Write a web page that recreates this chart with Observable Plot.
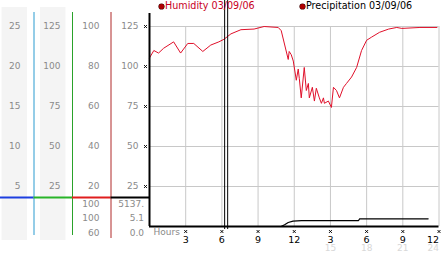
<!DOCTYPE html>
<html><head><meta charset="utf-8">
<script src="https://cdn.jsdelivr.net/npm/d3@7"></script>
<script src="https://cdn.jsdelivr.net/npm/@observablehq/plot@0.6"></script>
<style>
body{margin:0;background:#fff;}
#wrap{position:relative;width:442px;height:253px;overflow:hidden;font-family:"DejaVu Sans",sans-serif;background:#fff;}
#wrap svg{position:absolute;left:0;top:0;}
.legend{position:absolute;top:1px;font-size:9.6px;line-height:10px;white-space:nowrap;}
.dot{position:absolute;top:4px;width:5px;height:5px;border-radius:50%;background:#b00000;box-shadow:0 0 0 0.6px #400;}
</style></head><body>
<div id="wrap"></div>
<script>
// ---- data ----
const humidityHours = [0,0.36,0.75,1.17,2.0,2.58,3.17,3.67,4.42,5.08,5.75,6.17,6.75,7.58,8.67,9.5,10.67,10.92,11.5,11.58,11.75,11.92,12.17,12.33,12.42,12.58,12.83,13.0,13.17,13.25,13.5,13.67,13.83,14.08,14.25,14.42,14.5,14.83,15.08,15.25,15.5,15.75,16.08,16.33,16.75,17.17,17.58,18.0,18.42,19.08,19.83,20.5,20.92,22.42,23.83];
const humidityValues = [105.4,110,108.4,111.4,115.4,108.4,114.4,114.4,109.4,113.4,115.4,117,120.4,123,123.4,125,124.4,122.4,104.4,109.4,107.4,103.4,91.4,98.4,92.4,80.4,99.4,85,89.4,80.4,87,78.4,86.4,80.4,77,80.4,77,78.4,74.4,87,85,80.4,87,89.4,93.4,99.4,110,116.4,118.4,121.4,123.4,124.4,123.8,124.4,124.4];
const precipHours = [0,10.9,11.2,11.5,11.9,12.6,17.33,17.42,23.1];
const precipValues = [0,0,0.6,1.4,1.9,2.1,2.1,2.7,2.7];
const gridValues = [125,100,75,50,25];
const axisCol1 = ["25","20","15","10","5"];
const axisCol2 = ["125","100","75","50","25"];
const axisCol3 = ["100","80","60","40","20"];
const axisCol4 = ["125","100","75","50","25"];
const lowerCol3 = ["100","100","60"];
const lowerCol4 = ["5137.","5.1","0.0"];
const tickHours = [3,6,9,12,15,18,21,24];
const tickLabels = ["3","6","9","12","3","6","9","12"];
const pmHours = [15,18,21,24];
const pmLabels = ["15","18","21","24"];
const cursorHours = [6.23,6.48];
const legendLabels = ["Humidity 03/09/06","Precipitation 03/09/06"];

const W = 442, H = 253;
const wrap = document.getElementById("wrap");
const font = {fontFamily:"DejaVu Sans, sans-serif", fontSize:"9px", background:"transparent", overflow:"visible"};

// ---- left axis panel ----
const cols = [
  {labels:axisCol1, vline:"#2a9bd0", hline:"#1d3fe0", dx:-13.5, bg:true},
  {labels:axisCol2, vline:"#2aa22a", hline:"#28b428", dx:-12, bg:true},
  {labels:axisCol3, vline:"#b02828", hline:"#e01e1e", dx:-11.5, bg:false, lower:lowerCol3, ldx:-11.5},
  {labels:axisCol4, vline:null, hline:"#000", dx:-11, bg:false, lower:lowerCol4, ldx:-5.5}
];
const lowerDy = [-22.5,-8,6.5];
const leftMarks = [];
cols.forEach((c,i)=>{
  if (c.bg) leftMarks.push(Plot.rect([{a:i+0.17,b:i+0.83}],{x1:"a",x2:"b",fill:"#f4f4f4"}));
});
cols.forEach((c,i)=>{
  if (c.vline) leftMarks.push(Plot.ruleX([i+1],{stroke:c.vline,insetTop:5,insetBottom:i===2?2:5}));
  leftMarks.push(Plot.ruleY([{y:0,a:i,b:i+1}],{y:"y",x1:"a",x2:"b",dy:-29,stroke:c.hline,strokeWidth:2}));
  leftMarks.push(Plot.text(gridValues,{x:()=>i+1,y:d=>d,text:(d,j)=>c.labels[j],dx:c.dx,textAnchor:"end",fill:"#8a8a8a",fontSize:9}));
  if (c.lower) c.lower.forEach((t,j)=>{
    leftMarks.push(Plot.text([t],{x:()=>i+1,y:()=>0,text:d=>d,dx:c.ldx,dy:lowerDy[j],textAnchor:"end",fill:"#8a8a8a",fontSize:9}));
  });
});
const left = Plot.plot({
  width:149, height:H, marginTop:7, marginBottom:13, marginLeft:0, marginRight:0,
  x:{domain:[0,4], range:[-5,149], axis:null},
  y:{domain:[0,125], range:[226,26], axis:null},
  style:font,
  marks:leftMarks
});
wrap.appendChild(left);

// ---- main humidity chart ----
const lastTick = tickHours.length - 1;
const lastPm = pmHours.length - 1;
const main = Plot.plot({
  width:W, height:H, marginLeft:149, marginRight:3.5, marginTop:26, marginBottom:27,
  x:{domain:[0,24], axis:null},
  y:{domain:[0,125], axis:null},
  style:font,
  marks:[
    Plot.ruleY(gridValues,{stroke:"#c8c8c8"}),
    Plot.ruleX(tickHours,{stroke:"#c8c8c8"}),
    Plot.line(humidityHours.map((h,i)=>({h,v:humidityValues[i]})),{x:"h",y:"v",stroke:"#e0102a",strokeWidth:1}),
    Plot.ruleX(cursorHours,{stroke:"#000",insetTop:-26,insetBottom:-3}),
    Plot.ruleY([0],{stroke:"#000",strokeWidth:2}),
    Plot.ruleX([0],{stroke:"#000",strokeWidth:2,insetTop:-13}),
    Plot.dot(gridValues,{x:()=>0,y:d=>d,dx:-4,symbol:"times",r:1.4,stroke:"#000",strokeWidth:1}),
    Plot.dot(tickHours,{x:d=>d,y:()=>0,dy:5,dx:(0),symbol:"times",r:1.4,stroke:"#000",strokeWidth:1}),
    Plot.text(tickHours.slice(0,lastTick),{x:d=>d,y:()=>0,text:(d,i)=>tickLabels[i],dy:13,fill:"#000",fontSize:9.5}),
    Plot.text([tickHours[lastTick]],{x:d=>d,y:()=>0,text:()=>tickLabels[lastTick],dy:13,dx:0,textAnchor:"end",fill:"#000",fontSize:9.5}),
    Plot.text(pmHours.slice(0,lastPm),{x:d=>d,y:()=>0,text:(d,i)=>pmLabels[i],dy:22,fill:"#d8d8d8",fontSize:9}),
    Plot.text([pmHours[lastPm]],{x:d=>d,y:()=>0,text:()=>pmLabels[lastPm],dy:22,dx:0,textAnchor:"end",fill:"#d8d8d8",fontSize:9}),
    Plot.text(["Hours"],{x:()=>0,y:()=>0,text:d=>d,dx:4,dy:6,textAnchor:"start",fill:"#8a8a8a",fontSize:9})
  ]
});
wrap.appendChild(main);

// ---- precipitation band ----
const precip = Plot.plot({
  width:W, height:H, marginLeft:149, marginRight:3.5, marginTop:197, marginBottom:27,
  x:{domain:[0,24], axis:null},
  y:{domain:[0,10.2], axis:null},
  style:font,
  marks:[
    Plot.line(precipHours.map((h,i)=>({h,v:precipValues[i]})),{x:"h",y:"v",stroke:"#000",strokeWidth:1.2})
  ]
});
wrap.appendChild(precip);

// ---- legend ----
function legendItem(label, dotX, textX, color){
  const d = document.createElement("div"); d.className="dot"; d.style.left=(dotX-2.5)+"px"; wrap.appendChild(d);
  const t = document.createElement("div"); t.className="legend"; t.style.left=textX+"px"; t.style.color=color; t.textContent=label; wrap.appendChild(t);
}
legendItem(legendLabels[0], 161, 165, "#c8001e");
legendItem(legendLabels[1], 302.5, 306, "#000");
</script>
</body></html>
